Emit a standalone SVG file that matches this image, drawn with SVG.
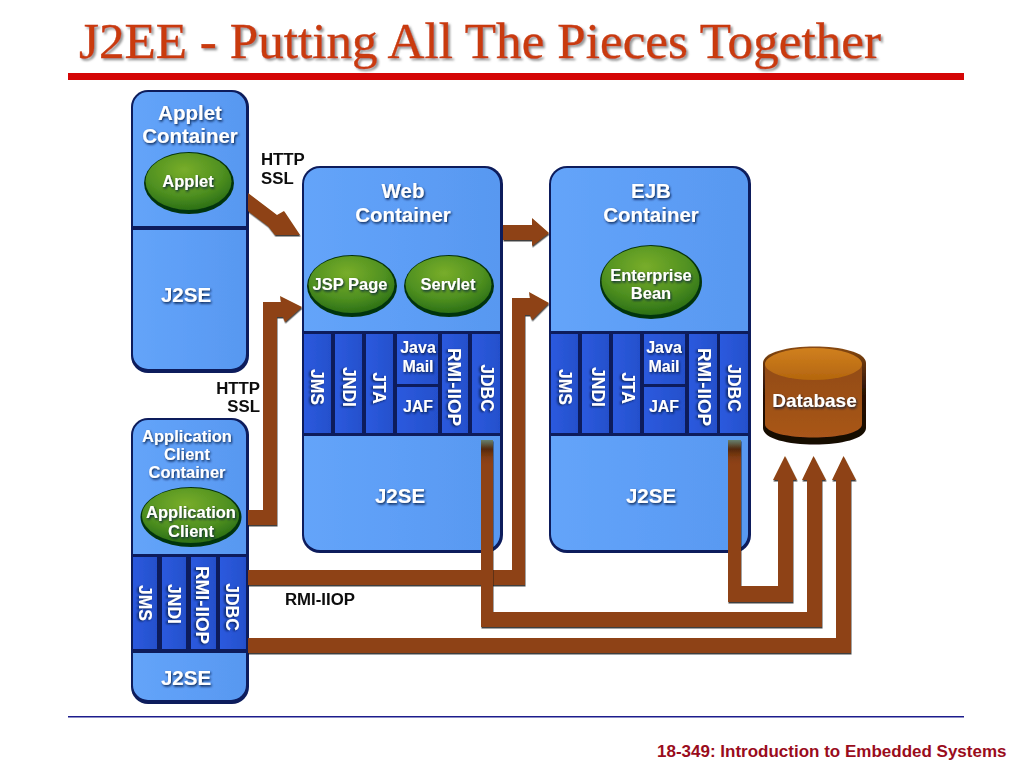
<svg xmlns="http://www.w3.org/2000/svg" width="1024" height="768" viewBox="0 0 1024 768">
<style>
text{font-family:"Liberation Sans",Arial,sans-serif;font-weight:bold}
.title{font-family:"Liberation Serif","Times New Roman",serif;font-weight:normal;font-size:51.200px;fill:#c93a10;stroke:#c93a10;stroke-width:0.400px;filter:url(#titleShadow)}
.foot{font-size:17px;fill:#9a0c1c}
.lbl{fill:#fff;text-anchor:middle;filter:url(#ts)}
.big{font-size:20.500px}.mid{font-size:16.500px}.cell{font-size:17.500px}.rmi{font-size:18.800px}.small{font-size:16px}
.blk{fill:#0a0a0a;font-size:16.800px}
.edge{fill:#0b1c5c}
.box{fill:url(#boxFill)}
.cellr{fill:url(#cellFill)}
.eg{fill:#06340c}
.eb{fill:url(#greenFill)}
.arrow{fill:#8e4312;filter:url(#cs)}
</style>
<defs>
<linearGradient id="boxFill" x1="0" y1="0" x2="1" y2="0"><stop offset="0" stop-color="#64a4f9"/><stop offset="0.5" stop-color="#5d9ef6"/><stop offset="1" stop-color="#5898f0"/></linearGradient>
<linearGradient id="cellFill" x1="0" y1="0" x2="1" y2="0"><stop offset="0" stop-color="#2c5ade"/><stop offset="1" stop-color="#2450cc"/></linearGradient>
<radialGradient id="greenFill" cx="0.45" cy="0.3" r="0.75"><stop offset="0" stop-color="#78ad2a"/><stop offset="0.6" stop-color="#4f9020"/><stop offset="1" stop-color="#256a14"/></radialGradient>
<linearGradient id="fade" x1="0" y1="0" x2="0" y2="1"><stop offset="0" stop-color="#66806f"/><stop offset="0.35" stop-color="#54280c"/><stop offset="1" stop-color="#8e4312" stop-opacity="0"/></linearGradient>
<linearGradient id="dbBody" x1="0" y1="0" x2="0" y2="1"><stop offset="0" stop-color="#8e4a10"/><stop offset="1" stop-color="#a9561a"/></linearGradient>
<linearGradient id="dbTop" x1="0" y1="0" x2="0" y2="1"><stop offset="0" stop-color="#d08020"/><stop offset="1" stop-color="#b4660e"/></linearGradient>
<linearGradient id="dbEdge" x1="0" y1="0" x2="0" y2="1"><stop offset="0" stop-color="#8a4a12"/><stop offset="0.45" stop-color="#2a1206"/><stop offset="1" stop-color="#120804"/></linearGradient>
<filter id="ts" x="-20%" y="-30%" width="140%" height="170%"><feDropShadow dx="1" dy="1.500" stdDeviation="0.800" flood-color="#04123c" flood-opacity="0.900"/></filter>
<filter id="titleShadow" x="-5%" y="-20%" width="110%" height="150%"><feDropShadow dx="2" dy="2" stdDeviation="0.800" flood-color="#8a8a8a" flood-opacity="0.900"/></filter>
<filter id="cs" x="-5%" y="-5%" width="110%" height="110%"><feDropShadow dx="0.500" dy="1.500" stdDeviation="0.600" flood-color="#111" flood-opacity="0.800"/></filter>
<filter id="soft" x="0" y="0" width="100%" height="100%"><feGaussianBlur stdDeviation="0.450"/></filter>
</defs>

<g id="header">
<text class="title" x="79" y="58">J2EE - Putting All The Pieces Together</text>
<rect x="68" y="73" width="896" height="7" fill="#d40606"/>
</g>

<g id="diagram" filter="url(#soft)">
<g id="applet-container">
<rect class="edge" x="131" y="90" width="118" height="283" rx="17"/>
<rect class="box" x="133" y="92" width="113" height="277" rx="15"/>
<rect class="edge" x="132" y="226" width="116" height="4"/>
<text class="lbl big" x="190" y="120">Applet</text>
<text class="lbl big" x="190" y="143">Container</text>
<g id="applet"><ellipse class="eg" cx="189" cy="183" rx="45" ry="31"/><ellipse class="eb" cx="188.500" cy="181.500" rx="43" ry="28.500"/><text class="lbl mid" x="188" y="187">Applet</text></g>
<text class="lbl big" x="186" y="302">J2SE</text>
</g>

<g id="web-container">
<rect class="edge" x="302" y="166" width="201" height="387" rx="18"/>
<rect class="box" x="304" y="168" width="196" height="382" rx="16"/>
<rect class="edge" x="302" y="331" width="201" height="105"/>
<rect class="cellr" x="304" y="334" width="27" height="99"/>
<rect class="cellr" x="335" y="334" width="27" height="99"/>
<rect class="cellr" x="366" y="334" width="27" height="99"/>
<rect class="cellr" x="397" y="334" width="41" height="50"/>
<rect class="cellr" x="397" y="387" width="41" height="46"/>
<rect class="cellr" x="442" y="334" width="26" height="99"/>
<rect class="cellr" x="472" y="334" width="28" height="99"/>
<text class="lbl big" x="403" y="198">Web</text>
<text class="lbl big" x="403" y="222">Container</text>
<g id="jsp-page"><ellipse class="eg" cx="352" cy="286" rx="45" ry="31"/><ellipse class="eb" cx="351.500" cy="284.500" rx="43" ry="28.500"/><text class="lbl mid" x="350" y="290">JSP Page</text></g>
<g id="servlet"><ellipse class="eg" cx="449" cy="286" rx="45" ry="31"/><ellipse class="eb" cx="448.500" cy="284.500" rx="43" ry="28.500"/><text class="lbl mid" x="448" y="290">Servlet</text></g>
<text class="lbl cell" transform="translate(311 387) rotate(90)">JMS</text>
<text class="lbl cell" transform="translate(343 387) rotate(90)">JNDI</text>
<text class="lbl cell" transform="translate(373 388) rotate(90)">JTA</text>
<text class="lbl small" x="418" y="353">Java</text>
<text class="lbl small" x="418" y="372">Mail</text>
<text class="lbl small" x="418" y="412">JAF</text>
<text class="lbl rmi" transform="translate(448 387) rotate(90)">RMI-IIOP</text>
<text class="lbl cell" transform="translate(481 388) rotate(90)">JDBC</text>
<text class="lbl big" x="400" y="503">J2SE</text>
</g>

<g id="ejb-container">
<rect class="edge" x="549" y="166" width="202" height="387" rx="18"/>
<rect class="box" x="551" y="168" width="197" height="382" rx="16"/>
<rect class="edge" x="549" y="331" width="202" height="105"/>
<rect class="cellr" x="551" y="334" width="27" height="99"/>
<rect class="cellr" x="582" y="334" width="27" height="99"/>
<rect class="cellr" x="613" y="334" width="27" height="99"/>
<rect class="cellr" x="644" y="334" width="41" height="50"/>
<rect class="cellr" x="644" y="387" width="41" height="46"/>
<rect class="cellr" x="689" y="334" width="28" height="99"/>
<rect class="cellr" x="720" y="334" width="28" height="99"/>
<text class="lbl big" x="651" y="198">EJB</text>
<text class="lbl big" x="651" y="222">Container</text>
<g id="enterprise-bean"><ellipse class="eg" cx="651" cy="282" rx="51" ry="37"/><ellipse class="eb" cx="650.500" cy="280.500" rx="49" ry="34.500"/><text class="lbl mid" x="651" y="281">Enterprise</text><text class="lbl mid" x="651" y="299">Bean</text></g>
<text class="lbl cell" transform="translate(559 387) rotate(90)">JMS</text>
<text class="lbl cell" transform="translate(592 387) rotate(90)">JNDI</text>
<text class="lbl cell" transform="translate(622 388) rotate(90)">JTA</text>
<text class="lbl small" x="664" y="353">Java</text>
<text class="lbl small" x="664" y="372">Mail</text>
<text class="lbl small" x="664" y="412">JAF</text>
<text class="lbl rmi" transform="translate(698 387) rotate(90)">RMI-IIOP</text>
<text class="lbl cell" transform="translate(728 388) rotate(90)">JDBC</text>
<text class="lbl big" x="651" y="503">J2SE</text>
</g>

<g id="application-client-container">
<rect class="edge" x="131" y="418" width="118" height="286" rx="17"/>
<rect class="box" x="133" y="420" width="113" height="280" rx="15"/>
<rect class="edge" x="131" y="554" width="118" height="99"/>
<rect class="cellr" x="133" y="557" width="24" height="92"/>
<rect class="cellr" x="162" y="557" width="24" height="92"/>
<rect class="cellr" x="191" y="557" width="25" height="92"/>
<rect class="cellr" x="220" y="557" width="26" height="92"/>
<text class="lbl mid" x="187" y="442">Application</text>
<text class="lbl mid" x="187" y="460">Client</text>
<text class="lbl mid" x="187" y="478">Container</text>
<g id="application-client"><ellipse class="eg" cx="191" cy="517" rx="50.500" ry="30"/><ellipse class="eb" cx="190.500" cy="515.500" rx="48.500" ry="27.500"/><text class="lbl mid" x="191" y="518">Application</text><text class="lbl mid" x="191" y="537">Client</text></g>
<text class="lbl cell" transform="translate(139 603) rotate(90)">JMS</text>
<text class="lbl cell" transform="translate(168 604) rotate(90)">JNDI</text>
<text class="lbl rmi" transform="translate(196 605) rotate(90)">RMI-IIOP</text>
<text class="lbl cell" transform="translate(226 607) rotate(90)">JDBC</text>
<text class="lbl big" x="186" y="685">J2SE</text>
</g>

<g id="database">
<path d="M763 363C763 341 866 341 866 363V428C866 450 763 450 763 428Z" fill="url(#dbEdge)"/>
<path d="M765 365C765 346 862 346 862 365V424C862 442 765 442 765 424Z" fill="url(#dbBody)"/>
<ellipse cx="813.500" cy="364" rx="48.500" ry="16" fill="url(#dbTop)"/>
<text class="lbl" style="font-size:19px" x="814.500" y="407">Database</text>
</g>

<g id="connectors">
<path class="arrow" d="M248 193L277 215L284 211L300 235L275 235L268 226L248 211Z"/>
<path class="arrow" d="M248 510H263V302H281L280 296L302 307L285 322L283 317H277V525H248Z"/>
<path class="arrow" d="M503 225H532V218L549 233L532 246V240H503Z"/>
<path class="arrow" d="M248 570H512V298H530L529 292L549 303L532 320L530 315H525V585H248Z"/>
<path class="arrow" d="M481 440H493V612H807V480H802L813.500 456L826 480H822V627H481Z"/>
<path class="arrow" d="M728 440H741V586H778V480H773L785 456L797 480H793V602H728Z"/>
<path class="arrow" d="M248 638H836V480H832L843.500 456L856 480H851V653H248Z"/>
<rect x="481" y="440" width="12" height="26" fill="url(#fade)"/>
<rect x="728" y="440" width="13" height="26" fill="url(#fade)"/>
</g>

<g id="labels">
<text class="blk" x="261" y="165">HTTP</text>
<text class="blk" x="261" y="184">SSL</text>
<text class="blk" x="260" y="394" text-anchor="end">HTTP</text>
<text class="blk" x="260" y="412" text-anchor="end">SSL</text>
<text class="blk" x="285" y="605">RMI-IIOP</text>
</g>
</g>

<g id="footer">
<rect x="68" y="716" width="896" height="1.500" fill="#1c1c8c"/>
<text class="foot" x="657" y="757">18-349: Introduction to Embedded Systems</text>
</g>
</svg>
